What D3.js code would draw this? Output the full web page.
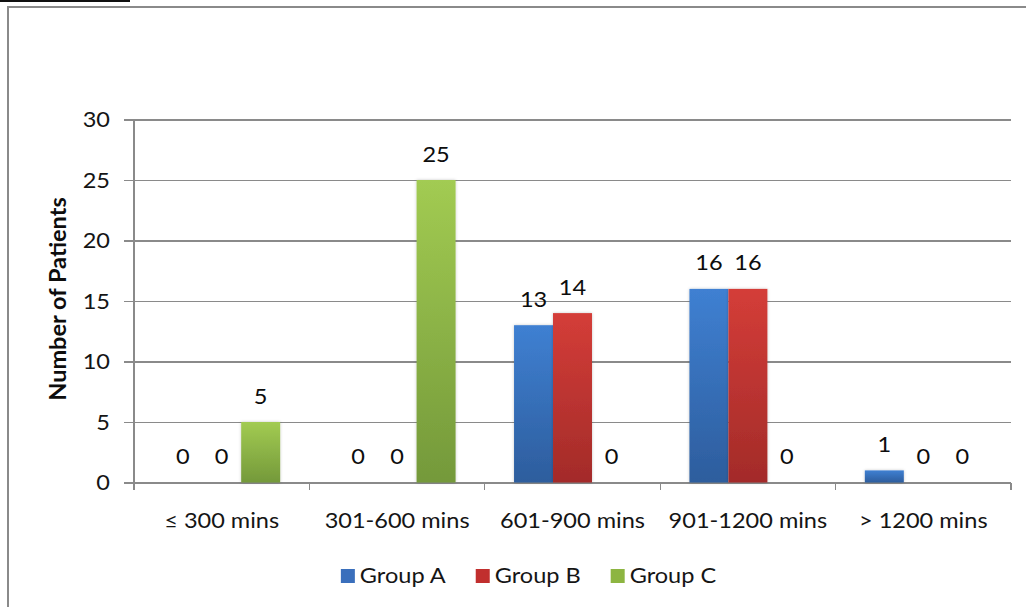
<!DOCTYPE html>
<html>
<head>
<meta charset="utf-8">
<script src="https://cdn.jsdelivr.net/npm/d3@7"></script>
<style>
  html, body { margin: 0; padding: 0; background: #fff; }
  svg { display: block; }
  text { font-family: Lato, "Open Sans", sans-serif; }
</style>
</head>
<body>
<svg id="chart" width="1026" height="607"></svg>
<script>
// ---- data ----
const categories = ["≤ 300 mins", "301-600 mins", "601-900 mins", "901-1200 mins", "> 1200 mins"];
const groups = ["Group A", "Group B", "Group C"];
const groupA = [0, 0, 13, 16, 1];
const groupB = [0, 0, 14, 16, 0];
const groupC = [5, 25, 0, 0, 0];
const yTicks = [0, 5, 10, 15, 20, 25, 30];
const yTitle = "Number of Patients";

// ---- styles ----
const W = 1026, H = 607;
const plot = { left: 134, right: 1011, top: 119.5, bottom: 482.5 };
const fontSize = 22;
const stretch = 1.07;
const gridColor = "#8a8a8a";
const textColor = "#151515";
const colors = {
  "Group A": { top: "#3f80d2", bottom: "#2d5d9d", flat: "#3a6fbc" },
  "Group B": { top: "#d43d38", bottom: "#a32b29", flat: "#c12f2e" },
  "Group C": { top: "#a2cb52", bottom: "#74993a", flat: "#8db541" }
};

const seriesValues = { "Group A": groupA, "Group B": groupB, "Group C": groupC };
const rows = categories.map((c, i) => ({ cat: c, vals: groups.map(g => ({ group: g, value: seriesValues[g][i] })) }));

const svg = d3.select("#chart");
svg.append("rect").attr("width", W).attr("height", H).attr("fill", "#fff");

// defs: gradients + shadow
const defs = svg.append("defs");
groups.forEach((g, i) => {
  const lg = defs.append("linearGradient").attr("id", "grad" + i)
    .attr("x1", 0).attr("y1", 0).attr("x2", 0).attr("y2", 1);
  lg.append("stop").attr("offset", "0%").attr("stop-color", colors[g].top);
  lg.append("stop").attr("offset", "100%").attr("stop-color", colors[g].bottom);
});
const f = defs.append("filter").attr("id", "shadow").attr("x", "-20%").attr("y", "-20%").attr("width", "140%").attr("height", "140%");
f.append("feDropShadow").attr("dx", 0).attr("dy", 0).attr("stdDeviation", 1.6)
  .attr("flood-color", "#000").attr("flood-opacity", 0.22);

// frame & top decoration
svg.append("rect").attr("x", 0).attr("y", 0).attr("width", 130).attr("height", 2).attr("fill", "#111");
svg.append("line").attr("x1", 7).attr("x2", W).attr("y1", 7).attr("y2", 7)
  .attr("stroke", "#8a8a8a").attr("stroke-width", 2);
svg.append("line").attr("x1", 8).attr("x2", 8).attr("y1", 6).attr("y2", H)
  .attr("stroke", "#8a8a8a").attr("stroke-width", 2);

// scales
const x0 = d3.scaleBand().domain(categories).range([plot.left, plot.right]).padding(0);
const x1 = d3.scaleBand().domain(groups).range([0, x0.bandwidth()]).paddingInner(0).paddingOuter(0.75);
const y = d3.scaleLinear().domain([0, 30]).range([plot.bottom, plot.top]);

function stretchedText(sel, x, yy, anchor, rot) {
  return sel.append("text")
    .attr("transform", `translate(${x},${yy})` + (rot ? ` rotate(${rot})` : "") + ` scale(${stretch},1)`)
    .attr("text-anchor", anchor)
    .attr("font-size", fontSize)
    .attr("fill", textColor);
}

// y gridlines via axis
const yg = svg.append("g").attr("transform", `translate(${plot.right},0)`);
yg.call(d3.axisLeft(y).tickValues(yTicks).tickSize(plot.right - plot.left + 10).tickFormat(""));
yg.select(".domain").remove();
yg.selectAll(".tick line").attr("stroke", gridColor).attr("stroke-width", 1.3).attr("shape-rendering", "crispEdges");

const ylab = svg.append("g");
yTicks.forEach(t => {
  stretchedText(ylab, 110, y(t) + 7.8, "end").text(d3.format("d")(t));
});

// vertical axis line
svg.append("line").attr("x1", plot.left).attr("x2", plot.left).attr("y1", plot.top).attr("y2", plot.bottom)
  .attr("stroke", gridColor).attr("stroke-width", 1.3).attr("shape-rendering", "crispEdges");

// x axis
const xAxisG = svg.append("g").attr("transform", `translate(0,${plot.bottom})`);
const boundaries = categories.map(c => x0(c)).concat([plot.right]);
xAxisG.selectAll("line.tk").data(boundaries).enter().append("line").attr("class", "tk")
  .attr("x1", d => d).attr("x2", d => d).attr("y1", 0).attr("y2", 7)
  .attr("stroke", gridColor).attr("stroke-width", 1.3).attr("shape-rendering", "crispEdges");
categories.forEach(c => {
  stretchedText(svg, x0(c) + x0.bandwidth() / 2, 527.5, "middle").text(c);
});

// bars
const cg = svg.append("g").selectAll("g").data(rows).enter().append("g")
  .attr("transform", d => `translate(${x0(d.cat)},0)`);
cg.selectAll("rect").data(d => d.vals.filter(v => v.value > 0)).enter().append("rect")
  .attr("x", d => x1(d.group))
  .attr("width", x1.bandwidth())
  .attr("y", d => y(d.value))
  .attr("height", d => y(0) - y(d.value))
  .attr("fill", d => `url(#grad${groups.indexOf(d.group)})`)
  .attr("filter", "url(#shadow)");

// value labels
rows.forEach(r => {
  r.vals.forEach(v => {
    stretchedText(svg, x0(r.cat) + x1(v.group) + x1.bandwidth() / 2, y(v.value) - 18.5, "middle")
      .attr("fill", "#0d0d0d").text(v.value);
  });
});

// y title
stretchedText(svg, 66, 299, "middle", -90).attr("font-weight", "bold").attr("fill", "#0d0d0d").text(yTitle);

// legend
const lg = svg.append("g");
const sq = 14, gapText = 5, gapItem = 30;
let items = [];
let cx = 0;
groups.forEach(g => {
  const it = lg.append("g");
  it.append("rect").attr("x", 0).attr("y", -14).attr("width", sq).attr("height", sq).attr("fill", colors[g].flat);
  const t = stretchedText(it, sq + gapText, 0, "start").text(g);
  const w = t.node().getComputedTextLength() * stretch;
  items.push({ it, x: cx });
  cx += sq + gapText + w + gapItem;
});
const totalW = cx - gapItem;
const legendCenter = 528.5;
const startX = legendCenter - totalW / 2;
items.forEach(o => o.it.attr("transform", `translate(${startX + o.x},583)`));
</script>
</body>
</html>
